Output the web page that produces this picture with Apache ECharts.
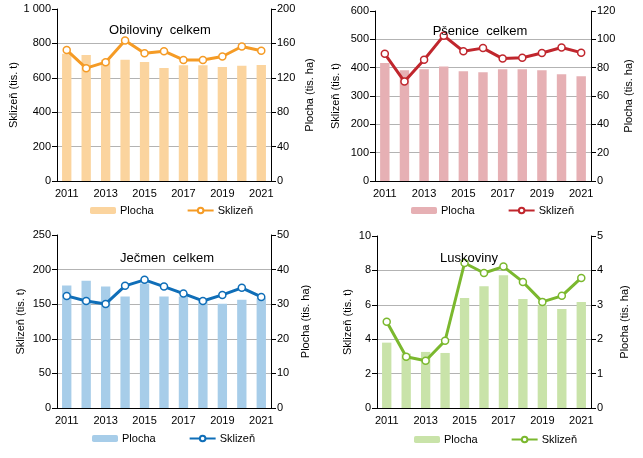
<!DOCTYPE html>
<html><head><meta charset="utf-8">
<script src="https://cdn.jsdelivr.net/npm/echarts@6/dist/echarts.min.js"></script>
<style>html,body{margin:0;padding:0;background:#fff}#c{width:643px;height:458px}</style>
</head><body><div id="c"></div>
<script>
const years = ['2011','2012','2013','2014','2015','2016','2017','2018','2019','2020','2021'];
const obilPlocha = [148, 146.5, 141, 141, 138.5, 131.5, 134.5, 134.5, 132.5, 134, 135];
const obilSklizen = [761, 656, 691, 817, 743, 755, 704, 704, 724, 782, 757];
const psenPlocha = [83.3, 78.1, 78.8, 80.9, 77.4, 76.7, 78.8, 78.8, 78.1, 75.3, 73.9];
const psenSklizen = [449, 351, 428, 513, 458, 469, 432, 435, 452, 471, 453];
const jecPlocha = [35.4, 36.8, 35.1, 32.2, 36.0, 32.2, 32.2, 30.9, 30.1, 31.3, 31.7];
const jecSklizen = [162, 154.7, 150.4, 176.5, 185.2, 175.5, 165.4, 154.7, 163.4, 173.6, 160.5];
const luskPlocha = [1.90, 1.58, 1.63, 1.60, 3.20, 3.54, 3.86, 3.17, 2.99, 2.88, 3.08];
const luskSklizen = [5.01, 2.98, 2.75, 3.91, 8.43, 7.85, 8.22, 7.33, 6.17, 6.52, 7.56];

const titles = ['Obiloviny  celkem', 'Pšenice  celkem', 'Ječmen  celkem', 'Luskoviny'];
const leftMax = [1000, 600, 250, 10], leftInt = [200, 100, 50, 2];
const rightMax = [200, 120, 50, 5], rightInt = [40, 20, 10, 1];
const barColors = ['#FBD49E', '#E6B0B4', '#A7CDE9', '#C9E3A9'];
const lineColors = ['#F59B25', '#C0262D', '#0F6EB8', '#7BB82E'];
const plochaData = [obilPlocha, psenPlocha, jecPlocha, luskPlocha];
const sklizenData = [obilSklizen, psenSklizen, jecSklizen, luskSklizen];

const FONT = 'Liberation Sans';
const grids = [
  {left: 57, top: 9, width: 214, height: 172},
  {left: 375, top: 11, width: 216, height: 170},
  {left: 57, top: 235, width: 214, height: 173},
  {left: 377, top: 236, width: 214, height: 172}
];
const titlePos = [[155, 19], [475, 20], [162, 247], [464, 247]];
const legendPos = [[85, 200], [406, 200], [87, 428], [409, 429]];
const leftGap = [38, 34, 31, 24];
const rightGap = [33, 32, 29, 28];

const option = {
  animation: false,
  textStyle: {fontFamily: FONT, color: '#000'},
  title: titles.map((t, i) => ({
    text: t, left: titlePos[i][0], top: titlePos[i][1], textAlign: 'center',
    textStyle: {fontFamily: FONT, fontSize: 13, fontWeight: 'normal', color: '#000'}
  })),
  legend: [0,1,2,3].map(i => ({
    left: legendPos[i][0], top: legendPos[i][1],
    data: ['Plocha' + i, 'Sklizeň' + i].map(n => ({name: n})),
    formatter: n => n.replace(/\d$/, ''),
    itemWidth: 26, itemHeight: 7, itemGap: 33,
    textStyle: {fontFamily: FONT, fontSize: 11, color: '#000', padding: [0,0,0,-1]}
  })),
  grid: grids,
  xAxis: [0,1,2,3].map(i => ({
    type: 'category', gridIndex: i, data: years, boundaryGap: true,
    axisLine: {lineStyle: {color: '#000', width: 1}},
    axisTick: {interval: 0, length: 5, lineStyle: {color: '#000'}},
    axisLabel: {interval: 1, fontSize: 11, color: '#000', margin: 7, fontFamily: FONT}
  })),
  yAxis: [].concat(...[0,1,2,3].map(i => [
    {
      type: 'value', gridIndex: i, position: 'left', min: 0, max: leftMax[i], interval: leftInt[i],
      name: 'Sklizeň (tis. t)', nameLocation: 'middle', nameGap: leftGap[i],
      nameTextStyle: {fontSize: 11, color: '#000', fontFamily: FONT},
      axisLine: {show: true, lineStyle: {color: '#000'}},
      axisTick: {show: true, length: 5, lineStyle: {color: '#000'}},
      axisLabel: {fontSize: 11, color: '#000', margin: 6, fontFamily: FONT,
        formatter: v => String(v).replace(/\B(?=(\d{3})+(?!\d))/g, ' ')},
      splitLine: {show: true, showMinLine: false, showMaxLine: false, lineStyle: {color: '#B3B3B3', width: 1}}
    },
    {
      type: 'value', gridIndex: i, position: 'right', min: 0, max: rightMax[i], interval: rightInt[i],
      name: 'Plocha (tis. ha)', nameLocation: 'middle', nameGap: rightGap[i],
      nameTextStyle: {fontSize: 11, color: '#000', fontFamily: FONT},
      axisLine: {show: true, lineStyle: {color: '#000'}},
      axisTick: {show: true, length: 5, lineStyle: {color: '#000'}},
      axisLabel: {fontSize: 11, color: '#000', margin: 6, fontFamily: FONT},
      splitLine: {show: false}
    }
  ])),
  series: [].concat(...[0,1,2,3].map(i => [
    {
      name: 'Plocha' + i, type: 'bar', xAxisIndex: i, yAxisIndex: 2 * i + 1,
      data: plochaData[i], barWidth: '48%', itemStyle: {color: barColors[i]}, z: 2
    },
    {
      name: 'Sklizeň' + i, type: 'line', xAxisIndex: i, yAxisIndex: 2 * i,
      data: sklizenData[i], symbol: 'circle', symbolSize: 7,
      lineStyle: {color: lineColors[i], width: 3},
      itemStyle: {color: '#fff', borderColor: lineColors[i], borderWidth: 1.5}, z: 3
    }
  ]))
};
const chart = echarts.init(document.getElementById('c'), null, {renderer: 'canvas'});
chart.setOption(option);
</script></body></html>
